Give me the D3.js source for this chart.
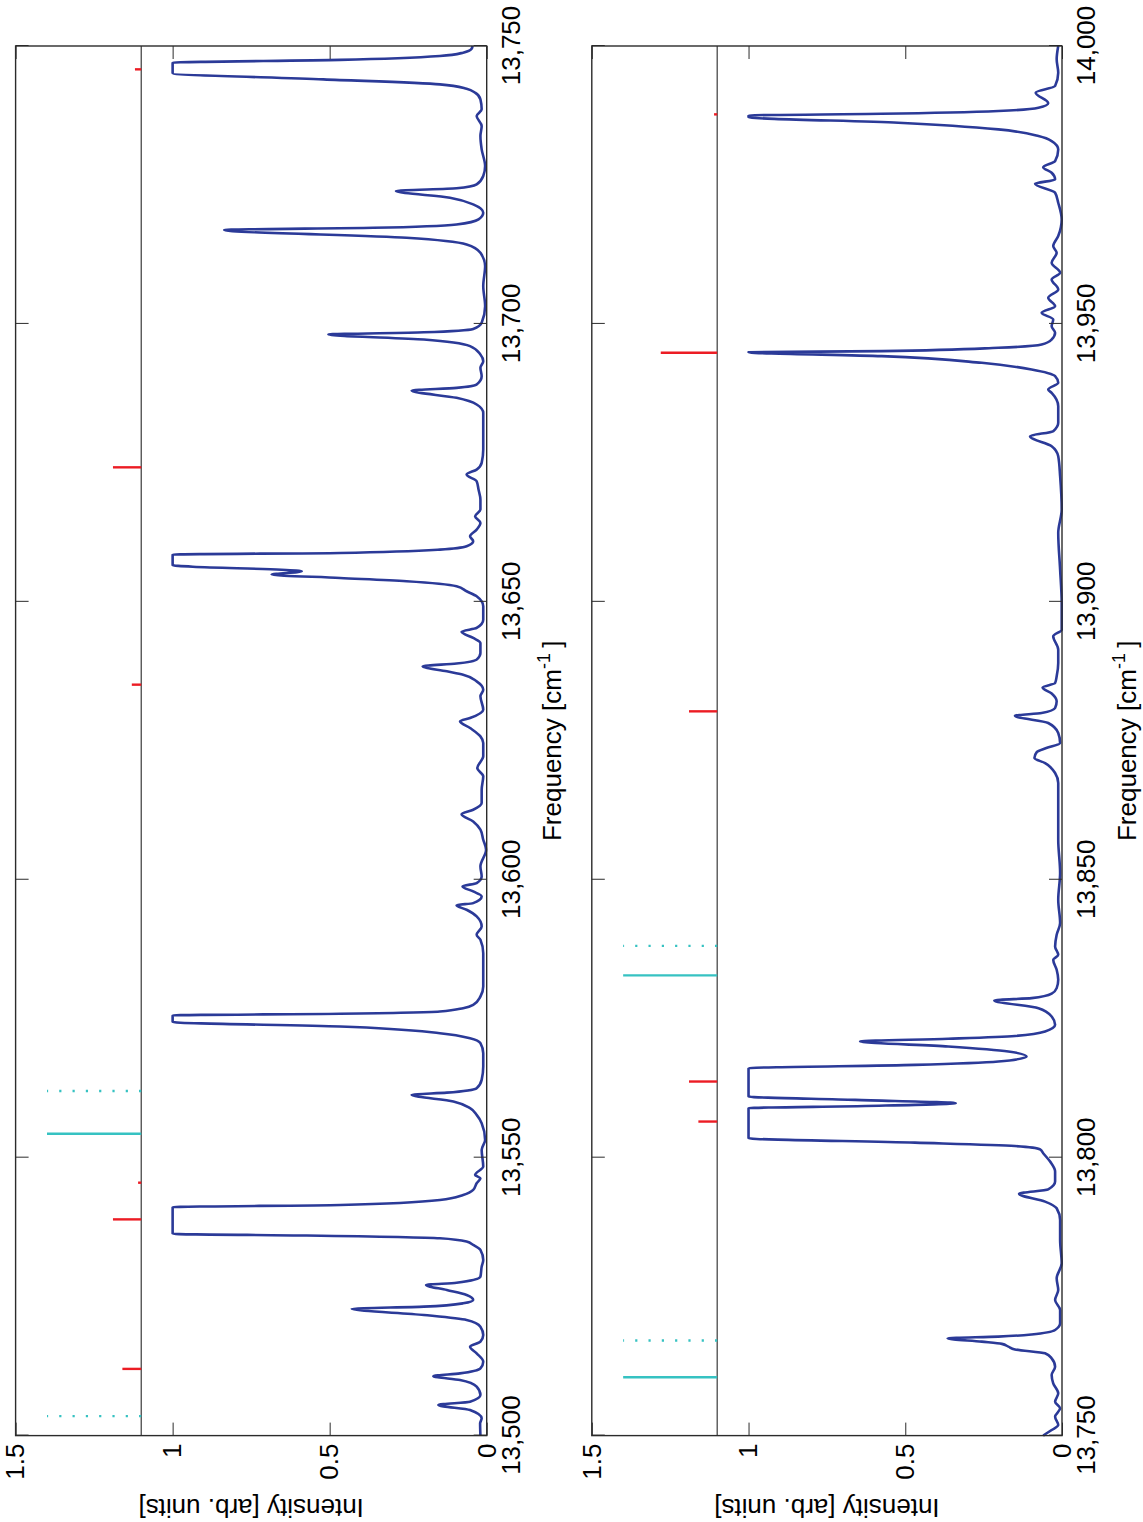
<!DOCTYPE html>
<html><head><meta charset="utf-8">
<script src="https://cdn.jsdelivr.net/npm/d3@7"></script>
<style>body{margin:0;background:#fff}svg{display:block}</style>
</head><body>
<script>
// ---------------- DATA ----------------
const freqTicks1 = [13500,13550,13600,13650,13700,13750];
const freqTicks2 = [13750,13800,13850,13900,13950,14000];
const intensityTicks = [0,0.5,1,1.5];
const freqDomain1 = [13500,13750];
const freqDomain2 = [13750,14000];
const intensityDomain = [0,1.5];
const stickBase = 1.1;
const cyanHeight = 0.3;

// spectrum [frequency, intensity]
const spectrum1 = [
[13500.0,0.02],[13502.2,0.021],[13503.1,0.016],[13504.6,0.053],[13505.5,0.154],[13506.1,0.053],[13507.3,0.02],
[13508.8,0.032],[13510.0,0.085],[13510.7,0.17],[13511.2,0.085],[13512.1,0.02],[13513.3,0.011],[13514.8,0.032],
[13516.0,0.053],[13516.9,0.02],[13518.1,0.011],[13519.6,0.02],[13520.8,0.064],[13521.7,0.2],[13522.8,0.43],
[13523.2,0.2],[13523.8,0.075],[13524.4,0.043],[13525.3,0.064],[13526.2,0.127],[13527.1,0.193],[13527.5,0.096],
[13528.6,0.02],[13530.4,0.016],[13531.6,0.011],[13533.4,0.02],[13534.3,0.043],[13534.9,0.064],[13535.5,0.149],
[13536.0,0.573],[13536.3,1],[13541.1,1],[13541.5,0.466],[13542.4,0.149],[13543.3,0.075],[13544.2,0.043],
[13545.4,0.032],[13546.3,0.02],[13546.9,0.037],[13548.4,0.011],[13551.4,0.016],[13553.2,0.005],[13556.2,0.016],
[13557.7,0.032],[13558.9,0.053],[13560.1,0.106],[13561.3,0.239],[13561.7,0.127],[13562.5,0.032],[13564.0,0.016],
[13566.4,0.011],[13568.8,0.011],[13570.6,0.02],[13571.5,0.053],[13572.4,0.149],[13573.6,0.467],[13574.4,1],
[13575.6,1],[13575.9,0.467],[13576.3,0.149],[13576.9,0.075],[13577.5,0.043],[13579.0,0.02],[13580.8,0.011],
[13583.8,0.011],[13586.8,0.011],[13589.2,0.02],[13590.1,0.032],[13591.6,0.016],[13593.4,0.032],[13594.6,0.064],
[13595.4,0.096],[13595.8,0.043],[13597.0,0.016],[13597.9,0.043],[13598.8,0.077],[13599.4,0.032],[13600.6,0.016],
[13602.4,0.02],[13605.4,0.002],[13607.2,0.011],[13609.0,0.02],[13610.5,0.043],[13611.8,0.08],[13612.6,0.043],
[13613.8,0.016],[13616.2,0.016],[13618.6,0.011],[13620.1,0.03],[13622.2,0.011],[13624.6,0.011],[13625.8,0.02],
[13627.3,0.053],[13628.5,0.085],[13629.1,0.053],[13630.6,0.011],[13633.0,0.02],[13634.2,0.011],[13635.7,0.032],
[13636.9,0.075],[13637.5,0.127],[13638.4,0.204],[13638.9,0.096],[13639.6,0.032],[13640.8,0.02],[13642.6,0.02],
[13643.5,0.043],[13644.6,0.08],[13645.3,0.032],[13646.8,0.011],[13649.2,0.011],[13651.0,0.032],[13651.9,0.064],
[13652.8,0.096],[13653.7,0.255],[13654.3,0.467],[13654.9,0.685],[13655.5,0.589],[13656.6,1],[13658.5,1],
[13658.8,0.467],[13659.4,0.149],[13660.0,0.064],[13660.9,0.043],[13661.8,0.053],[13663.0,0.032],[13664.2,0.02],
[13665.4,0.037],[13666.6,0.02],[13668.4,0.02],[13670.2,0.026],[13671.7,0.032],[13672.9,0.064],[13673.8,0.032],
[13675.0,0.016],[13677.4,0.011],[13681.0,0.011],[13684.0,0.011],[13685.5,0.032],[13686.7,0.096],[13688.0,0.239],
[13688.5,0.096],[13689.1,0.032],[13690.6,0.016],[13692.1,0.02],[13693.3,0.011],[13694.5,0.02],[13696.0,0.053],
[13697.2,0.2],[13698.1,0.504],[13698.5,0.2],[13699.1,0.043],[13700.2,0.016],[13703.2,0.005],[13706.8,0.011],
[13710.4,0.005],[13712.8,0.02],[13714.3,0.064],[13715.5,0.255],[13716.9,0.836],[13717.3,0.361],[13717.9,0.096],
[13718.8,0.026],[13720.0,0.011],[13721.5,0.043],[13722.7,0.117],[13723.9,0.289],[13724.4,0.096],[13725.1,0.032],
[13726.6,0.011],[13728.4,0.005],[13731.4,0.016],[13733.8,0.02],[13735.6,0.016],[13737.4,0.032],[13738.6,0.016],
[13740.4,0.02],[13741.6,0.037],[13742.3,0.064],[13743.1,0.149],[13744.0,0.52],[13745.1,1],[13747.0,1],
[13747.5,0.467],[13748.2,0.149],[13748.8,0.075],[13749.5,0.048],[13750.0,0.045]
];
const spectrum2 = [
[13750.0,0.06],[13751.0,0.033],[13751.9,0.012],[13753.4,0.022],[13754.9,0.006],[13756.1,0.022],[13757.6,0.012],
[13759.4,0.028],[13760.9,0.033],[13762.4,0.022],[13763.9,0.033],[13764.8,0.054],[13765.5,0.15],[13766.0,0.171],
[13766.5,0.192],[13766.9,0.256],[13767.5,0.365],[13767.8,0.203],[13768.2,0.097],[13769.0,0.022],[13770.2,0.006],
[13772.6,0.006],[13774.4,0.022],[13776.2,0.012],[13778.3,0.017],[13781.0,0.001],[13785.2,0.006],[13788.8,0.006],
[13790.9,0.017],[13792.1,0.054],[13793.5,0.137],[13794.3,0.044],[13795.7,0.022],[13797.5,0.022],[13799.3,0.038],
[13800.8,0.06],[13801.5,0.07],[13802.1,0.15],[13802.7,0.469],[13803.5,1],[13808.9,1],[13809.3,0.628],
[13809.8,0.339],[13810.4,0.66],[13811.0,1],[13816.1,1],[13816.7,0.469],[13817.3,0.203],[13818.2,0.113],
[13819.1,0.171],[13820.0,0.363],[13820.9,0.644],[13821.4,0.363],[13821.9,0.15],[13822.7,0.054],[13823.9,0.022],
[13825.4,0.033],[13826.9,0.075],[13828.3,0.216],[13828.7,0.097],[13829.5,0.033],[13830.5,0.017],[13832.0,0.012],
[13833.8,0.017],[13835.6,0.028],[13836.5,0.012],[13838.0,0.022],[13840.1,0.017],[13842.2,0.006],[13846.4,0.012],
[13851.2,0.006],[13857.2,0.012],[13863.2,0.012],[13867.4,0.012],[13869.2,0.022],[13871.0,0.054],[13871.9,0.088],
[13873.0,0.08],[13873.7,0.05],[13874.6,0.006],[13876.4,0.012],[13878.2,0.044],[13879.5,0.15],[13880.0,0.065],
[13880.9,0.022],[13882.1,0.017],[13883.5,0.033],[13884.6,0.062],[13885.4,0.022],[13886.6,0.017],[13889.0,0.012],
[13891.4,0.012],[13893.8,0.028],[13895.0,0.001],[13899.8,0.001],[13905.8,0.006],[13912.4,0.012],[13916.6,0.001],
[13922.6,0.006],[13926.2,0.012],[13928.0,0.033],[13929.8,0.102],[13930.7,0.028],[13932.2,0.012],[13935.2,0.012],
[13937.6,0.033],[13938.2,0.044],[13939.4,0.012],[13940.6,0.022],[13941.8,0.097],[13943.0,0.256],[13944.2,0.575],
[13944.9,1.0],[13945.1,0.575],[13945.7,0.203],[13946.3,0.065],[13947.2,0.033],[13948.4,0.022],[13949.6,0.033],
[13950.8,0.028],[13952.0,0.065],[13953.2,0.022],[13954.7,0.044],[13956.2,0.012],[13958.0,0.033],[13959.2,0.006],
[13961.0,0.033],[13962.8,0.017],[13964.0,0.028],[13965.8,0.012],[13968.8,0.001],[13971.8,0.012],[13973.6,0.022],
[13975.2,0.086],[13976.0,0.022],[13977.2,0.033],[13978.2,0.06],[13979.3,0.022],[13981.4,0.012],[13982.9,0.033],
[13983.8,0.075],[13985.0,0.203],[13986.2,0.522],[13987.2,1.0],[13987.5,1.0],[13987.8,0.575],[13988.3,0.203],
[13988.9,0.075],[13989.7,0.044],[13991.6,0.084],[13992.8,0.022],[13995.2,0.012],[13997.6,0.017],[14000.0,0.012]
];

// stick spectra [frequency, height above 1.1]
const redSticks1 = [[13512.0,0.06],[13538.9,0.09],[13545.5,0.01],[13635.1,0.03],[13674.2,0.09],[13745.8,0.02]];
const redSticks2 = [[13806.5,0.06],[13813.7,0.09],[13880.3,0.09],[13944.8,0.18],[13987.7,0.01]];
const cyanSolid1 = [13554.3];
const cyanDotted1 = [13503.5,13562.0];
const cyanSolid2 = [13760.5,13832.8];
const cyanDotted2 = [13767.1,13838.1];

const freqLabel = "Frequency [cm";
const freqLabelSup = "-1";
const intensityLabel = "Intensity [arb. units]";

// ---------------- DRAW ----------------
const W = 1143, H = 1522;
const FONT = "'Liberation Sans', Arial, Helvetica, sans-serif";
const FS = 26;
const svg = d3.select("body").append("svg").attr("width", W).attr("height", H);
// figure drawn in its own (landscape) frame, then turned 90 degrees
const fig = svg.append("g").attr("transform", `translate(0,${H}) rotate(-90)`);

const uLeft = 86.4, uRight = 1476;
const panels = [
  {spec: spectrum1, red: redSticks1, cs: cyanSolid1, cd: cyanDotted1, dom: freqDomain1, ticks: freqTicks1, vTop: 15.6, vBot: 486.7},
  {spec: spectrum2, red: redSticks2, cs: cyanSolid2, cd: cyanDotted2, dom: freqDomain2, ticks: freqTicks2, vTop: 591.8, vBot: 1062}
];

const axisColor = "#2b2b2b";

panels.forEach(p => {
  const x = d3.scaleLinear().domain(p.dom).range([uLeft, uRight]);
  const y = d3.scaleLinear().domain(intensityDomain).range([p.vBot, p.vTop]);
  const g = fig.append("g");

  // baseline for sticks at 1.1
  g.append("line")
    .attr("x1", x(p.dom[0])).attr("x2", x(p.dom[1]))
    .attr("y1", y(stickBase)).attr("y2", y(stickBase))
    .attr("stroke", "#3a3a3a").attr("stroke-width", 1.2);

  // red sticks
  g.selectAll("line.red").data(p.red).join("line").attr("class", "red")
    .attr("x1", d => x(d[0])).attr("x2", d => x(d[0]))
    .attr("y1", y(stickBase)).attr("y2", d => y(stickBase + d[1]))
    .attr("stroke", "#ec1c24").attr("stroke-width", 2.4);

  // cyan solid sticks
  g.selectAll("line.cs").data(p.cs).join("line").attr("class", "cs")
    .attr("x1", d => x(d)).attr("x2", d => x(d))
    .attr("y1", y(stickBase)).attr("y2", y(stickBase + cyanHeight))
    .attr("stroke", "#36c2c2").attr("stroke-width", 2.4);

  // cyan dotted sticks
  g.selectAll("line.cd").data(p.cd).join("line").attr("class", "cd")
    .attr("x1", d => x(d)).attr("x2", d => x(d))
    .attr("y1", y(stickBase)).attr("y2", y(stickBase + cyanHeight))
    .attr("stroke", "#36c2c2").attr("stroke-width", 2.4)
    .attr("stroke-dasharray", "2.2 11.1");

  // spectrum
  const line = d3.line().x(d => x(d[0])).y(d => y(d[1])).curve(d3.curveMonotoneX);
  g.append("path").datum(p.spec)
    .attr("d", line)
    .attr("fill", "none").attr("stroke", "#2b3a98")
    .attr("stroke-width", 2.6).attr("stroke-linejoin", "round");

  // axes
  const fmt = d3.format(",");
  const ax = g.append("g").attr("transform", `translate(0,${p.vBot})`)
    .call(d3.axisBottom(x).tickValues(p.ticks).tickFormat(fmt).tickSizeInner(-13).tickSizeOuter(0).tickPadding(15));
  const axT = g.append("g").attr("transform", `translate(0,${p.vTop})`)
    .call(d3.axisTop(x).tickValues(p.ticks).tickFormat("").tickSizeInner(-13).tickSizeOuter(0));
  const ay = g.append("g").attr("transform", `translate(${uLeft},0)`)
    .call(d3.axisLeft(y).tickValues(intensityTicks).tickFormat(d => String(d)).tickSizeInner(-13).tickSizeOuter(0).tickPadding(8));
  const ayR = g.append("g").attr("transform", `translate(${uRight},0)`)
    .call(d3.axisRight(y).tickValues(intensityTicks).tickFormat("").tickSizeInner(-13).tickSizeOuter(0));
  [ax, axT, ay, ayR].forEach(a => {
    a.select(".domain").remove();
    a.selectAll("line").attr("stroke", axisColor).attr("stroke-width", 1);
    a.selectAll("text").attr("fill", "#000").style("font-family", FONT).style("font-size", FS + "px");
  });

  // box
  g.append("rect").attr("x", uLeft).attr("y", p.vTop)
    .attr("width", uRight - uLeft).attr("height", p.vBot - p.vTop)
    .attr("fill", "none").attr("stroke", axisColor).attr("stroke-width", 1.4);

  // x label
  const xl = g.append("text")
    .attr("x", (uLeft + uRight) / 2).attr("y", p.vBot + 74)
    .attr("text-anchor", "middle")
    .style("font-family", FONT).style("font-size", FS + "px").attr("fill", "#000");
  xl.append("tspan").text(freqLabel);
  xl.append("tspan").attr("dy", -11).style("font-size", "18px").text(freqLabelSup);
  xl.append("tspan").attr("dy", 11).text("\u2009]");

  // y label
  const yc = (p.vTop + p.vBot) / 2;
  g.append("text")
    .attr("transform", `translate(23,${yc}) rotate(-90)`)
    .attr("text-anchor", "middle")
    .style("font-family", FONT).style("font-size", FS + "px").attr("fill", "#000")
    .text(intensityLabel);
});
</script>
</body></html>
